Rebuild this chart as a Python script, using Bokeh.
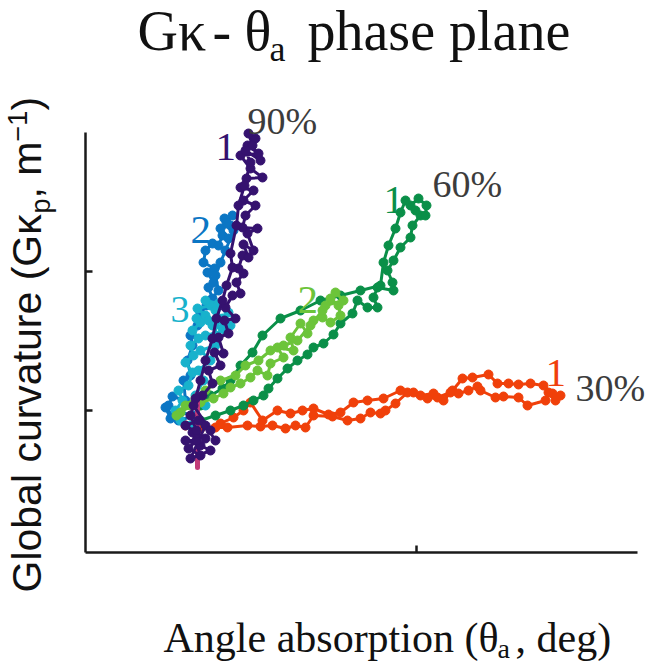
import math
from bokeh.plotting import figure
from bokeh.models import Range1d, FixedTicker, Label, CustomJSTickFormatter
from bokeh.embed import file_html
from bokeh.resources import INLINE

# ---------------- data (theta_a in deg, G-kappa in m^-1) ----------------
start_x = [11.2, 11.2]
start_y = [8.5, 15.9]

p90_1_x = [13.0, 12.0, 10.5, 12.5, 11.5, 10.0,
           11.1, 10.3, 11.5, 10.7, 12.0, 10.0, 11.3, 12.5, 10.8, 11.7, 12.7, 12.3, 13.5, 12.9, 13.8, 13.3,
           14.3, 13.9, 15.0, 14.0, 14.7, 15.5, 15.1, 15.8, 15.3, 15.7, 16.3, 15.8, 16.8, 16.2, 17.2, 15.7,
           16.0, 17.0, 15.8, 16.8, 15.5, 16.1, 17.7, 16.5, 15.5, 17.3, 16.2, 17.0, 16.3, 16.7, 17.5, 16.0,
           16.5, 15.9, 15.3, 15.1, 14.5, 14.7, 14.1, 13.7, 13.1, 12.7, 12.0, 11.5, 11.0, 10.5, 11.1]
p90_1_y = [11.2, 12.7, 9.4, 10.2, 10.7, 11.2,
           11.2, 10.4, 9.7, 12.0, 11.4, 12.7, 13.2, 12.2, 14.7, 15.7, 16.9, 18.2, 18.7, 20.0, 19.9, 21.5,
           21.9, 23.2, 23.4, 24.5, 25.7, 25.9, 27.0, 27.9, 28.4, 29.7, 29.5, 30.8, 30.2, 31.9, 32.4, 32.5,
           33.7, 34.7, 35.2, 36.2, 36.5, 37.4, 37.5, 38.4, 39.7, 39.9, 40.7, 41.4, 41.9, 40.7, 39.2, 40.2,
           39.0, 36.7, 34.7, 32.7, 29.9, 28.5, 26.7, 25.2, 23.4, 21.4, 19.2, 17.2, 15.4, 13.7, 12.2]

p90_2_x = [8.5, 8.0, 9.3, 11.0, 9.5, 8.3, 8.7, 10.0, 9.8, 10.5, 10.2, 10.7, 10.5, 11.2, 11.5, 12.1, 12.7,
           12.3, 12.8, 12.2, 12.9, 11.8, 12.0, 12.7, 13.3, 13.7, 14.3, 13.5, 14.5, 13.9, 14.7, 14.1, 14.8,
           14.0, 13.5, 13.0, 13.3, 12.5]
p90_2_y = [13.4, 14.5, 13.2, 13.7, 14.0, 14.7, 15.6, 15.2, 17.2, 17.7, 19.2, 20.7, 21.7, 22.7, 23.9, 24.7,
           25.4, 26.5, 27.0, 28.0, 28.4, 29.0, 30.2, 30.9, 30.7, 31.7, 31.4, 32.4, 32.7, 33.4, 33.7, 33.0,
           32.2, 30.2, 29.0, 27.7, 26.2, 25.2]

p90_3_x = [10.5, 9.5, 9.0, 9.7, 9.3, 10.3, 10.7, 10.0, 10.8, 10.5, 11.3, 10.7, 11.5, 12.0, 11.2, 12.5,
           12.0, 13.3, 14.3, 13.7, 12.3, 11.1, 14.5, 13.0,
           13.0, 13.7, 12.7, 14.0, 12.0, 13.0, 11.5, 12.5, 11.3, 11.8, 11.0, 12.0]
p90_3_y = [12.7, 13.2, 14.2, 15.2, 16.2, 16.7, 18.0, 19.0, 19.7, 20.7, 21.4, 22.2, 23.0, 23.7, 24.4, 24.7,
           25.2, 24.9, 24.0, 22.4, 23.2, 23.4, 22.7, 21.7,
           24.2, 23.4, 22.7, 22.2, 21.7, 20.7, 20.2, 19.2, 18.2, 17.2, 15.7, 14.7]

p60_1_x = [11.5, 13.0, 14.5, 15.8, 16.8, 17.8, 18.3, 19.2, 20.2, 21.2, 22.2, 22.8, 23.8, 24.8, 25.5, 26.7,
           27.2, 28.2, 29.2, 28.8, 29.2, 30.8, 30.7, 30.2, 30.8, 31.5, 32.5, 32.7, 33.5, 32.5, 33.3, 34.1,
           34.0, 33.0, 32.0, 31.5, 31.0, 30.3, 29.8, 29.5, 27.5, 25.5, 23.5, 21.5, 19.5, 17.7, 16.7, 15.5,
           14.5, 13.7, 12.5, 11.5]
p60_1_y = [13.2, 13.7, 14.2, 14.7, 15.2, 15.7, 16.4, 17.4, 18.4, 19.2, 19.8, 20.5, 20.9, 21.8, 22.9, 23.9,
           25.2, 24.5, 24.5, 25.5, 26.5, 26.2, 27.0, 28.2, 29.2, 30.5, 31.5, 32.7, 33.7, 34.7, 35.4, 34.7,
           33.7, 34.2, 35.2, 34.0, 32.4, 30.7, 29.0, 26.7, 26.2, 25.7, 25.2, 24.2, 23.4, 21.7, 20.0, 18.7,
           17.2, 16.4, 15.7, 14.7]

p60_2_x = [9.5, 10.5, 11.5, 12.8, 13.8, 14.5, 15.5, 16.5, 17.2, 18.2, 18.5, 19.8, 19.2, 20.8, 20.5, 21.5,
           22.2, 22.8, 23.7, 24.5, 25.5, 25.3, 24.5, 24.0, 25.8, 25.0, 23.7, 22.5, 21.2, 19.8, 18.5, 17.3,
           16.0, 15.0, 13.5, 12.0, 11.0, 10.0, 9.1]
p60_2_y = [14.0, 14.7, 15.0, 15.4, 15.9, 16.5, 16.9, 17.5, 18.2, 17.7, 18.9, 19.5, 20.5, 20.2, 21.5, 22.9,
           21.9, 23.2, 23.5, 23.0, 23.7, 24.7, 25.4, 24.7, 25.2, 26.0, 24.2, 22.7, 21.2, 20.7, 20.2, 19.2,
           18.7, 17.7, 17.2, 16.2, 15.4, 14.7, 13.7]

p30_1_x = [10.0, 11.5, 13.0, 14.2, 16.2, 17.5, 18.7, 20.0, 21.0, 22.0, 22.8, 24.7, 26.2, 27.5, 28.5, 29.5,
           30.0, 31.0, 32.2, 33.5, 34.8, 35.8, 36.7, 37.7, 38.7, 40.3, 41.2, 42.3, 43.3, 44.5, 45.8, 46.7,
           47.5, 47.0, 46.3, 46.0, 44.2, 43.3, 41.8, 41.0, 39.5, 39.2, 38.3, 37.3, 36.5, 35.2, 34.2, 32.8,
           31.5, 29.8, 28.2, 26.8, 25.5, 24.3, 22.8, 21.7, 20.5, 19.2, 17.7, 16.5, 15.8, 14.8, 13.5]
p30_1_y = [12.7, 12.4, 12.5, 12.5, 12.7, 12.6, 12.7, 12.4, 12.7, 12.5, 13.7, 13.6, 13.2, 13.4, 14.0, 13.9,
           14.2, 14.9, 16.0, 15.7, 15.9, 15.2, 16.2, 17.4, 17.5, 17.8, 16.9, 16.9, 16.8, 16.9, 16.7, 15.9,
           15.7, 15.2, 16.0, 15.2, 14.7, 15.5, 15.6, 15.5, 16.2, 16.6, 16.2, 15.9, 16.0, 15.5, 15.4, 16.0,
           16.2, 15.4, 15.2, 15.0, 14.0, 13.8, 14.4, 14.2, 13.9, 14.2, 13.2, 15.0, 14.2, 13.5, 12.9]

x_ticks = [33.1]
y_ticks = [14.2, 28.1]

# ---------------- figure ----------------
p = figure(width=652, height=664, output_backend="svg", toolbar_location=None,
           x_range=Range1d(-8.5, 56.7), y_range=Range1d(-11.2, 55.2),
           min_border_left=0, min_border_right=0, min_border_top=0, min_border_bottom=0)
p.outline_line_color = None
p.grid.visible = False
p.background_fill_color = "white"
p.border_fill_color = "white"

blank = CustomJSTickFormatter(code="return ''")
for ax in (p.xaxis, p.yaxis):
    ax.fixed_location = 0
    ax.axis_line_width = 2.5
    ax.axis_line_color = "#1a1a1a"
    ax.major_tick_in = 7
    ax.major_tick_out = 0
    ax.major_tick_line_width = 2.5
    ax.major_tick_line_color = "#1a1a1a"
    ax.minor_tick_line_color = None
    ax.formatter = blank
p.xaxis.bounds = (0, 55.2)
p.yaxis.bounds = (0, 42)
p.xaxis.ticker = FixedTicker(ticks=x_ticks)
p.yaxis.ticker = FixedTicker(ticks=y_ticks)

series = [
    (p30_1_x, p30_1_y, "#F0400A"),
    (p60_1_x, p60_1_y, "#0A8F48"),
    (p90_2_x, p90_2_y, "#0B76C4"),
    (p90_3_x, p90_3_y, "#18B2CC"),
    (p60_2_x, p60_2_y, "#6CC43A"),
]
for xs, ys, c in series:
    p.line(xs, ys, line_color=c, line_width=3)
    p.scatter(xs, ys, size=9, fill_color=c, line_color=c)

p.line(start_x, start_y, line_color="#C23C78", line_width=5, line_cap="round")
p.line(p90_1_x, p90_1_y, line_color="#35126F", line_width=3)
p.scatter(p90_1_x, p90_1_y, size=9, fill_color="#35126F", line_color="#35126F")

K = 0.037  # baseline correction per px of font size (data units)

def lab(x, y, t, size, color, font="Liberation Serif", rot=False):
    if rot:
        x = x - K * size
    else:
        y = y + K * size
    p.add_layout(Label(x=x, y=y, text=t, text_font=font, text_font_size=f"{size}px",
                       text_color=color, text_align="left", text_baseline="alphabetic",
                       angle=(math.pi / 2 if rot else 0.0)))

# curve annotations
lab(16.2, 41.7, "90%", 38, "#3C3C3C")
lab(13.0, 39.0, "1", 41, "#35126F")
lab(10.5, 30.7, "2", 41, "#0B76C4")
lab(8.5, 22.9, "3", 38, "#18B2CC")
lab(29.8, 33.7, "1", 41, "#0A8F48")
lab(34.7, 35.4, "60%", 38, "#3C3C3C")
lab(21.2, 23.7, "2", 41, "#6CC43A")
lab(46.0, 16.4, "1", 41, "#F0400A")
lab(49.0, 15.0, "30%", 38, "#3C3C3C")

# title
lab(5.2, 50.1, "G\u03ba", 56, "#111111")
lab(12.7, 50.1, "-", 56, "#111111")
lab(15.9, 50.1, "\u03b8", 56, "#111111")
lab(18.4, 49.0, "a", 36, "#111111")
lab(22.2, 50.1, "phase plane", 56, "#111111")

# x axis label
lab(7.8, -10.1, "Angle absorption (\u03b8", 42, "#111111")
lab(41.2, -10.6, "a", 28, "#111111")
lab(43.0, -10.1, ", deg)", 42, "#111111")

# y axis label (rotated)
lab(-4.3, -4.0, "Global curvature (G\u03ba", 41, "#111111", "Liberation Sans", True)
lab(-3.5, 33.9, "p", 27, "#111111", "Liberation Sans", True)
lab(-4.3, 35.4, ", m", 41, "#111111", "Liberation Sans", True)
lab(-5.8, 41.1, "\u22121", 27, "#111111", "Liberation Sans", True)
lab(-4.3, 44.2, ")", 41, "#111111", "Liberation Sans", True)

open("out.html", "w").write(file_html(p, INLINE))
